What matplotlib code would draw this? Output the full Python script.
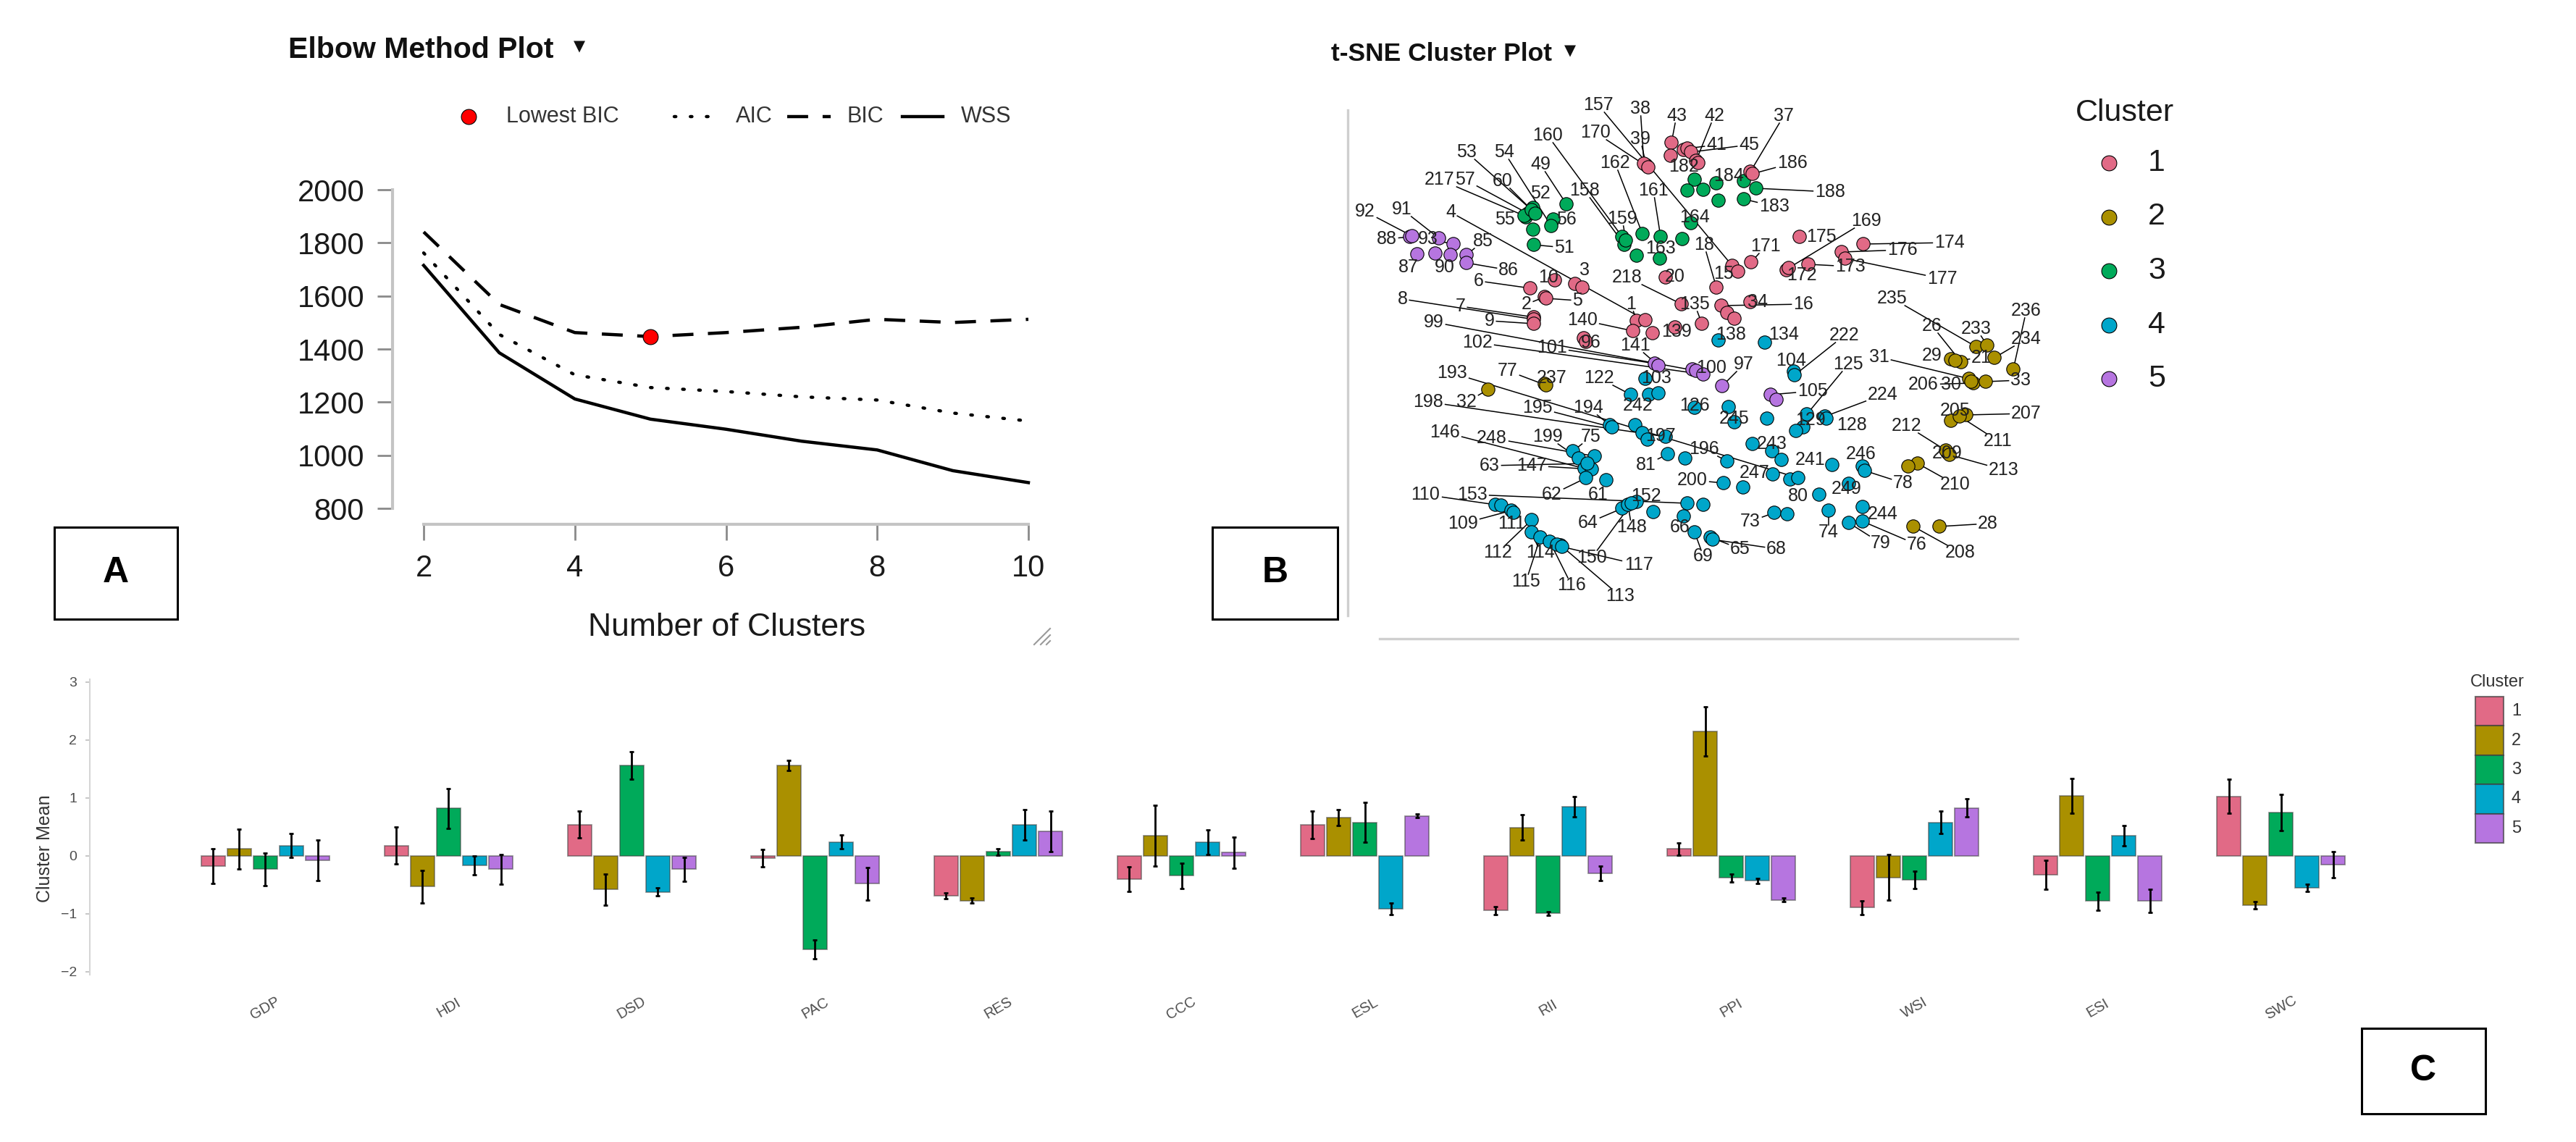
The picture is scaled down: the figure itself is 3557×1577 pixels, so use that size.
import numpy as np
import matplotlib.pyplot as plt
from matplotlib.lines import Line2D
from matplotlib.patches import Rectangle

plt.rcParams['font.family'] = ['Liberation Sans', 'DejaVu Sans']

W, H = 3557, 1577

# ---------------- elbow data ----------------
k_values = [2, 3, 4, 5, 6, 7, 8, 9, 10]
wss = [1715, 1386, 1212, 1136, 1098, 1053, 1020, 942, 897]
aic = [1762, 1455, 1303, 1255, 1240, 1220, 1208, 1159, 1129]
bic = [1841, 1568, 1462, 1447, 1462, 1482, 1512, 1500, 1512]

# ---------------- cluster means ----------------
variables = ['GDP', 'HDI', 'DSD', 'PAC', 'RES', 'CCC', 'ESL', 'RII', 'PPI', 'WSI', 'ESI', 'SWC']
cluster_names = ['1', '2', '3', '4', '5']
mean_c1 = [-0.18, 0.18, 0.54, -0.04, -0.69, -0.40, 0.54, -0.94, 0.12, -0.89, -0.32, 1.03]
mean_c2 = [0.12, -0.53, -0.58, 1.56, -0.77, 0.35, 0.66, 0.49, 2.15, -0.37, 1.04, -0.85]
mean_c3 = [-0.23, 0.82, 1.56, -1.61, 0.07, -0.34, 0.58, -0.99, -0.38, -0.41, -0.78, 0.75]
mean_c4 = [0.18, -0.16, -0.62, 0.24, 0.54, 0.24, -0.91, 0.85, -0.43, 0.58, 0.35, -0.55]
mean_c5 = [-0.08, -0.23, -0.23, -0.48, 0.42, 0.06, 0.69, -0.30, -0.76, 0.83, -0.78, -0.15]
err_c1 = [0.30, 0.32, 0.23, 0.15, 0.05, 0.21, 0.24, 0.07, 0.11, 0.12, 0.25, 0.29]
err_c2 = [0.34, 0.28, 0.27, 0.09, 0.04, 0.53, 0.14, 0.22, 0.42, 0.39, 0.30, 0.06]
err_c3 = [0.28, 0.34, 0.24, 0.16, 0.06, 0.22, 0.34, 0.03, 0.07, 0.15, 0.16, 0.31]
err_c4 = [0.21, 0.16, 0.07, 0.12, 0.26, 0.21, 0.10, 0.17, 0.04, 0.19, 0.18, 0.06]
err_c5 = [0.35, 0.26, 0.21, 0.28, 0.35, 0.27, 0.03, 0.13, 0.03, 0.16, 0.20, 0.22]

colors = ['#E16A86', '#AA9000', '#00AA5A', '#00A6CA', '#B675E0']

# ---------------- t-SNE data (cluster 5, 3, 1, 4, 2) ----------------
tsne_id = [
    88, 92, 91, 93, 87, 90, 89, 85, 86, 101, 100, 99, 102, 97, 141, 105, 106,
    52, 55, 57, 217, 53, 60, 50, 51, 56, 54, 49, 160, 158, 159, 165, 162, 161, 163, 166, 164,
    179, 180, 181, 184, 187, 185, 188, 183,
    39, 38, 170, 43, 44, 40, 41, 45, 42, 182, 37, 186, 157, 15, 18, 171, 172, 175, 169, 173,
    176, 177, 174, 16, 34, 19, 17, 135, 20, 218, 139, 6, 2, 5, 3, 11, 10, 7, 8, 9, 1, 4, 140, 12, 96, 98,
    138, 134, 104, 222, 126, 245, 127, 120, 125, 129, 224, 128, 130, 243, 239, 240, 241, 246, 78, 249,
    247, 250, 193, 80, 74, 73, 72, 244, 79, 76, 196, 200, 201, 202, 67, 153, 66, 69, 65, 68,
    103, 122, 121, 242, 194, 195, 197, 190, 191, 198, 81, 75, 199, 248, 146, 147, 63, 62, 61, 110,
    108, 109, 111, 112, 114, 115, 116, 113, 118, 117, 152, 64, 148, 150, 151,
    32, 237, 77, 235, 233, 234, 236, 26, 29, 21, 31, 206, 30, 33, 205, 207, 211, 209, 212, 213, 210, 214, 208, 28,
]
tsne_cluster = [5] * 17 + [3] * 28 + [1] * 46 + [4] * 75 + [2] * 24
tsne_x = [
    8.7, 9.0, 12.7, 14.7, 9.7, 12.2, 14.3, 16.5, 16.5, 42.5, 47.7, 48.2, 49.2, 51.8, 43.0, 58.5, 59.3,
    25.7, 24.7, 25.0, 24.5, 25.5, 26.0, 25.7, 25.8, 28.5, 28.2, 30.3, 38.0, 38.3, 38.5, 40.0, 40.8, 43.3, 43.2, 46.3, 47.5,
    48.0, 47.0, 49.2, 51.0, 51.3, 54.8, 56.5, 54.8,
    41.3, 41.0, 41.6, 44.8, 44.7, 46.5, 47.0, 47.5, 48.2, 48.5, 55.7, 56.0, 53.2, 54.0, 51.0, 55.8, 60.7, 62.5, 61.0, 63.7,
    68.3, 68.8, 71.3, 51.7, 55.7, 52.5, 53.5, 49.0, 44.0, 46.2, 45.3, 25.3, 27.3, 27.5, 31.5, 32.5, 28.7, 25.8, 25.8, 25.8,
    40.0, 41.2, 39.5, 42.2, 32.7, 33.0,
    51.3, 57.7, 61.7, 61.8, 48.0, 53.5, 52.7, 58.0, 63.5, 63.0, 66.0, 66.2, 62.0, 58.7, 56.0, 60.0, 67.0, 71.2, 71.5, 69.3,
    58.8, 61.2, 62.3, 65.2, 66.5, 59.0, 60.8, 71.2, 69.3, 71.2, 52.5, 52.0, 54.7, 46.7, 49.2, 47.0, 46.5, 48.0, 50.2, 50.5,
    41.2, 39.2, 41.7, 43.0, 36.3, 36.6, 39.8, 40.8, 41.5, 44.0, 44.3, 31.2, 32.0, 34.2, 32.8, 33.8, 33.2, 33.0, 35.8, 20.5,
    21.3, 22.7, 23.0, 25.5, 25.5, 26.7, 28.0, 29.5, 29.0, 29.7, 40.0, 38.0, 38.8, 39.3, 42.3,
    19.5, 27.3, 27.5, 86.9, 88.4, 89.4, 92.0, 84.8, 83.4, 84.0, 85.9, 86.5, 86.2, 88.2, 83.4, 85.5, 84.6, 82.9, 82.7, 83.2,
    78.8, 77.5, 78.2, 81.8,
]
tsne_y = [
    55.3, 55.4, 55.1, 54.3, 52.9, 53.0, 52.8, 52.8, 51.7, 37.8, 37.0, 36.8, 36.3, 34.7, 37.5, 33.5, 32.8,
    59.3, 58.0, 58.5, 58.2, 59.0, 58.5, 56.3, 54.2, 57.7, 56.8, 59.8, 55.3, 54.2, 54.8, 52.7, 55.7, 55.3, 52.3, 55.0, 57.2,
    63.2, 61.7, 61.8, 62.7, 60.3, 63.0, 62.0, 60.5,
    65.2, 65.4, 64.9, 68.3, 66.5, 67.3, 67.5, 67.0, 65.8, 65.5, 64.3, 64.0, 51.3, 50.5, 48.3, 51.8, 50.7, 55.3, 51.0, 51.5,
    53.2, 52.3, 54.3, 45.8, 46.3, 44.8, 44.0, 43.3, 49.7, 46.0, 42.8, 48.2, 47.0, 46.8, 48.8, 48.3, 49.3, 44.2, 43.9, 43.3,
    43.7, 43.8, 42.3, 42.0, 41.3, 40.8,
    41.0, 40.7, 36.7, 36.2, 31.7, 29.7, 31.8, 30.2, 30.8, 29.0, 30.5, 30.2, 28.5, 25.7, 26.7, 24.5, 23.8, 23.6, 23.0, 21.2,
    22.5, 21.8, 22.0, 19.7, 17.5, 17.2, 17.0, 18.0, 15.8, 16.0, 24.3, 21.3, 20.7, 24.7, 18.3, 18.5, 16.7, 14.5, 13.8, 13.5,
    35.7, 33.5, 33.5, 33.7, 29.3, 29.0, 29.3, 28.2, 27.3, 27.7, 25.3, 25.7, 24.7, 25.0, 23.3, 23.2, 24.0, 22.0, 21.7, 18.3,
    18.2, 17.5, 17.2, 16.2, 14.5, 13.8, 13.2, 12.7, 12.8, 12.5, 18.7, 17.8, 18.3, 18.5, 17.3,
    34.2, 35.0, 34.8, 40.1, 40.3, 38.6, 37.0, 38.0, 38.4, 38.2, 35.7, 35.1, 35.3, 35.3, 29.9, 30.7, 30.5, 25.5, 25.8, 25.2,
    24.0, 23.6, 15.3, 15.3,
]
label_x = [
    5.5, 2.5, 7.6, 11.2, 8.5, 13.5, None, 18.8, 22.3, 28.3, 50.3, 12.0, 18.0, 54.8, 39.8, 64.3, None,
    26.7, 21.8, 16.3, 12.8, 16.5, 21.5, None, 30.0, 30.3, 21.7, 26.7, 27.7, 32.8, 38.0, None, 37.0, 42.3, 43.3, None, 48.0,
    None, None, None, 52.7, None, None, 66.7, 59.0,
    40.5, 40.5, 34.3, 45.5, None, None, 51.0, 55.5, 50.7, 46.5, 60.3, 61.5, 34.7, 52.0, 49.3, 57.8, 62.8, 65.5, 71.7, 69.5,
    76.7, 82.2, 83.2, 63.0, 56.7, None, None, 48.0, 45.3, 38.7, 45.5, 18.2, 24.8, 31.8, 32.8, None, 27.8, 15.7, 7.7, 19.7,
    39.2, 14.3, 32.5, None, 33.7, None,
    53.0, 60.3, 61.3, 68.7, 48.0, 53.5, None, None, 69.2, 64.0, 74.0, 69.7, None, 58.7, None, None, 64.0, 71.0, 76.8, 69.0,
    56.3, None, 14.5, 62.3, 66.5, 55.7, None, 74.0, 73.7, 78.7, 49.3, 47.7, None, None, None, 17.3, 46.0, 49.2, 54.3, 59.3,
    42.7, 34.8, None, 40.2, 33.3, 26.3, 43.3, None, None, 11.2, 41.3, 33.7, 27.7, 20.0, 13.5, 25.5, 19.7, 28.3, 34.7, 10.8,
    None, 16.0, 22.7, 20.8, 26.7, 24.7, 31.0, 37.7, None, 40.3, 41.3, 33.3, 39.3, 33.8, None,
    16.5, 28.3, 22.2, 75.3, 86.9, 93.8, 93.8, 80.8, 80.8, 87.6, 73.5, 79.6, 83.4, 93.0, 84.0, 93.8, 89.9, 82.9, 77.3, 90.7,
    84.0, None, 84.7, 88.5,
]
label_y = [
    55.0, 58.8, 59.1, 55.0, 51.1, 51.1, None, 54.7, 50.7, 40.0, 37.2, 43.5, 40.7, 37.7, 40.3, 34.0, None,
    61.3, 57.7, 63.2, 63.2, 67.0, 63.0, None, 53.8, 57.7, 67.0, 65.3, 69.3, 61.7, 57.8, None, 65.5, 61.7, 53.7, None, 58.0,
    None, None, None, 63.7, None, None, 61.5, 59.5,
    68.8, 73.0, 69.7, 72.0, None, None, 68.0, 68.0, 72.0, 65.0, 72.0, 65.5, 73.5, 50.2, 54.2, 54.0, 50.0, 55.3, 57.5, 51.2,
    53.5, 49.5, 54.5, 46.0, 46.3, None, None, 46.0, 49.8, 49.7, 42.2, 49.2, 46.0, 46.5, 50.7, None, 49.7, 45.7, 46.7, 43.7,
    46.0, 58.7, 43.8, None, 40.7, None,
    41.8, 41.8, 38.2, 41.7, 32.0, 30.2, None, None, 37.7, 30.0, 33.5, 29.3, None, 26.7, None, None, 24.5, 25.3, 21.3, 20.5,
    22.7, None, 36.5, 19.5, 14.5, 16.0, None, 17.0, 13.0, 12.8, 26.0, 21.7, None, None, None, 19.7, 15.2, 11.2, 12.2, 12.2,
    35.8, 35.8, None, 32.0, 31.7, 31.7, 27.8, None, None, 32.5, 23.8, 27.7, 27.7, 27.5, 28.3, 23.7, 23.7, 19.7, 19.7, 19.7,
    None, 15.7, 15.7, 11.7, 11.7, 7.7, 7.2, 5.7, None, 10.0, 19.5, 15.8, 15.2, 11.0, None,
    32.5, 35.8, 36.8, 46.8, 42.6, 41.2, 45.1, 43.0, 38.9, 38.6, 38.7, 34.9, 34.9, 35.5, 31.3, 30.9, 27.1, 25.4, 29.2, 23.1,
    21.1, None, 11.7, 15.7,
]


def fx(x):
    return x / W


def fy(y):
    return 1 - y / H


def add_line(fig, xs, ys, **kw):
    fig.add_artist(Line2D([fx(v) for v in xs], [fy(v) for v in ys], transform=fig.transFigure, **kw))


def panel_title(fig, x, y, text, size, tri_x):
    fig.text(fx(x), fy(y), text, fontsize=size, fontweight='bold', ha='left', va='center', color='#111111')
    fig.text(fx(tri_x), fy(y - 5), '\u25BC', fontsize=15, ha='left', va='center', color='#111111',
             family='DejaVu Sans')


def letter_box(fig, x0, y0, x1, y1, letter):
    fig.add_artist(Rectangle((fx(x0), fy(y1)), fx(x1) - fx(x0), fy(y0) - fy(y1), transform=fig.transFigure,
                             fill=False, edgecolor='black', linewidth=2.2))
    fig.text(fx((x0 + x1) / 2), fy((y0 + y1) / 2), letter, fontsize=36, fontweight='bold',
             ha='center', va='center')


def elbow_plot(fig):
    ax = fig.add_axes([fx(585), fy(702), fx(1420) - fx(585), fy(262) - fy(702)])
    ax.set_xlim(2, 10)
    ax.set_ylim(800, 2000)
    ax.patch.set_alpha(0)
    ax.plot(k_values, aic, color='black', lw=3.2, linestyle=(0, (0.5, 4.5)), dash_capstyle='round', clip_on=False)
    ax.plot(k_values, bic, color='black', lw=3.2, linestyle=(0, (6.5, 4.5)), clip_on=False)
    ax.plot(k_values, wss, color='black', lw=3.2, clip_on=False)
    best = int(np.argmin(bic))
    ax.plot(k_values[best], bic[best], 'o', color='#FF0000', mec='black', mew=0.8, ms=15, zorder=5)

    for side in ['top', 'right']:
        ax.spines[side].set_visible(False)
    ax.spines['left'].set_position(('outward', 31))
    ax.spines['bottom'].set_position(('outward', 16))
    ax.spines['left'].set_bounds(800, 2000)
    ax.spines['bottom'].set_bounds(2, 10)
    for side in ['left', 'bottom']:
        ax.spines[side].set_color('#c4c4c4')
        ax.spines[side].set_linewidth(3)
    ax.set_yticks(range(800, 2001, 200))
    ax.set_xticks([2, 4, 6, 8, 10])
    ax.tick_params(axis='y', length=15, width=2, color='#8a8a8a', labelsize=30, pad=13, labelcolor='#1a1a1a')
    ax.tick_params(axis='x', length=16, width=2, color='#8a8a8a', labelsize=30, pad=13, labelcolor='#1a1a1a')
    fig.text(fx(1004), fy(867), 'Number of Clusters', fontsize=32, ha='center', va='center', color='#1a1a1a')

    # legend row
    ly = 161
    fig.add_artist(Line2D([fx(647)], [fy(ly)], marker='o', color='#FF0000', mec='black', mew=0.8, ms=15,
                          transform=fig.transFigure))
    fig.text(fx(699), fy(ly), 'Lowest BIC', fontsize=22, va='center', color='#333333')
    add_line(fig, [931, 984], [ly, ly], color='black', lw=3.2, linestyle=(0, (0.5, 4.5)), dash_capstyle='round')
    fig.text(fx(1016), fy(ly), 'AIC', fontsize=22, va='center', color='#333333')
    add_line(fig, [1087, 1147], [ly, ly], color='black', lw=3.2, linestyle=(0, (6.5, 4.5)))
    fig.text(fx(1170), fy(ly), 'BIC', fontsize=22, va='center', color='#333333')
    add_line(fig, [1246, 1302], [ly, ly], color='black', lw=3.2)
    fig.text(fx(1327), fy(ly), 'WSS', fontsize=22, va='center', color='#333333')

    # resize grip
    for a, b in [(1428, 1450), (1437, 1450), (1445, 1450)]:
        add_line(fig, [a, b], [890, 890 - (b - a)], color='#9a9a9a', lw=1.5)


def tsne_plot(fig):
    ax = fig.add_axes([fx(1860), fy(880), fx(2830) - fx(1860), fy(130) - fy(880)])
    ax.set_xlim(0, 97)
    ax.set_ylim(0, 75)
    ax.axis('off')
    n = len(tsne_id)
    assert all(len(a) == n for a in [tsne_cluster, tsne_x, tsne_y, label_x, label_y])

    for i in range(n):
        if label_x[i] is None:
            continue
        lx, ly = label_x[i], label_y[i]
        dx, dy = tsne_x[i] - lx, tsne_y[i] - ly
        dist = np.hypot(dx, dy)
        hw = 0.72 * len(str(tsne_id[i])) + 0.2
        hh = 1.0
        t = min(hw / abs(dx) if dx else np.inf, hh / abs(dy) if dy else np.inf)
        if t < 1 and (1 - t) * dist > 1.3:
            ax.plot([lx + t * dx, tsne_x[i]], [ly + t * dy, tsne_y[i]], color='black', lw=1.1, zorder=1)

    point_colors = [colors[c - 1] for c in tsne_cluster]
    ax.scatter(tsne_x, tsne_y, s=175, c=point_colors, edgecolors='black', linewidths=0.8, zorder=2)

    for i in range(n):
        if label_x[i] is None:
            continue
        ax.text(label_x[i], label_y[i], str(tsne_id[i]), fontsize=18, ha='center', va='center',
                color='#222222', zorder=3)

    add_line(fig, [1861, 1861], [152, 850], color='#cfcfcf', lw=2.4)
    add_line(fig, [1905, 2786], [882, 882], color='#cfcfcf', lw=2.4)

    # legend
    fig.text(fx(2866), fy(156), 'Cluster', fontsize=31, ha='left', va='center', color='#1a1a1a')
    for j, name in enumerate(cluster_names):
        yy = 225 + j * 74.5
        fig.add_artist(Line2D([fx(2912)], [fy(yy)], marker='o', color=colors[j], mec='black', mew=0.8, ms=15,
                              transform=fig.transFigure))
        fig.text(fx(2978), fy(yy), name, fontsize=31, ha='center', va='center', color='#1a1a1a')


def means_plot(fig):
    ax = fig.add_axes([fx(124), fy(1360), fx(3388) - fx(124), fy(920) - fy(1360)])
    ax.set_xlim(-0.958, 11.942)
    ax.set_ylim(-2.225, 3.275)
    means = [mean_c1, mean_c2, mean_c3, mean_c4, mean_c5]
    errs = [err_c1, err_c2, err_c3, err_c4, err_c5]
    pos = np.arange(len(variables))
    step, width = 0.1425, 0.131
    for k in range(5):
        xk = pos + (k - 2) * step
        ax.bar(xk, means[k], width=width, color=colors[k], edgecolor=(0.25, 0.25, 0.25, 0.55), linewidth=1.3,
               zorder=2)
        ax.errorbar(xk, means[k], yerr=errs[k], fmt='none', ecolor='black', elinewidth=2, capsize=2.5,
                    capthick=2, zorder=3)

    for side in ['top', 'right', 'bottom']:
        ax.spines[side].set_visible(False)
    ax.spines['left'].set_color('#d6d6d6')
    ax.spines['left'].set_linewidth(1.5)
    ax.spines['left'].set_bounds(-2.05, 3.05)
    ax.set_yticks([-2, -1, 0, 1, 2, 3])
    ax.tick_params(axis='y', length=4, width=1.2, color='#bdbdbd', labelsize=14, labelcolor='#4d4d4d', pad=9)
    ax.set_xticks(pos)
    ax.set_xticklabels(variables, rotation=30, ha='center', va='center', rotation_mode='anchor')
    ax.tick_params(axis='x', length=0, labelsize=14.5, labelcolor='#4d4d4d', pad=23)
    fig.text(fx(62), fy(1172), 'Cluster Mean', rotation=90, fontsize=18, ha='center', va='center', color='#333333')

    fig.text(fx(3448), fy(942), 'Cluster', fontsize=17, ha='center', va='center', color='#333333')
    for j, name in enumerate(cluster_names):
        y0 = 962 + j * 40.4
        fig.add_artist(Rectangle((fx(3418), fy(y0 + 40.4)), fx(39), 40.4 / H, transform=fig.transFigure,
                                 facecolor=colors[j], edgecolor=(0.25, 0.25, 0.25, 0.7), linewidth=1.5))
        fig.text(fx(3468), fy(y0 + 20.2), name, fontsize=17, ha='left', va='center', color='#333333')


def main():
    fig = plt.figure(figsize=(W / 100, H / 100), dpi=100)
    fig.patch.set_facecolor('white')
    panel_title(fig, 398, 69, 'Elbow Method Plot', 29.5, 792)
    panel_title(fig, 1838, 75, 't-SNE Cluster Plot', 25.5, 2160)
    elbow_plot(fig)
    tsne_plot(fig)
    means_plot(fig)
    letter_box(fig, 75, 728, 245, 855, 'A')
    letter_box(fig, 1674, 728, 1847, 855, 'B')
    letter_box(fig, 3261, 1420, 3432, 1538, 'C')
    fig.savefig('out.png', dpi=100)
    plt.close(fig)


main()
